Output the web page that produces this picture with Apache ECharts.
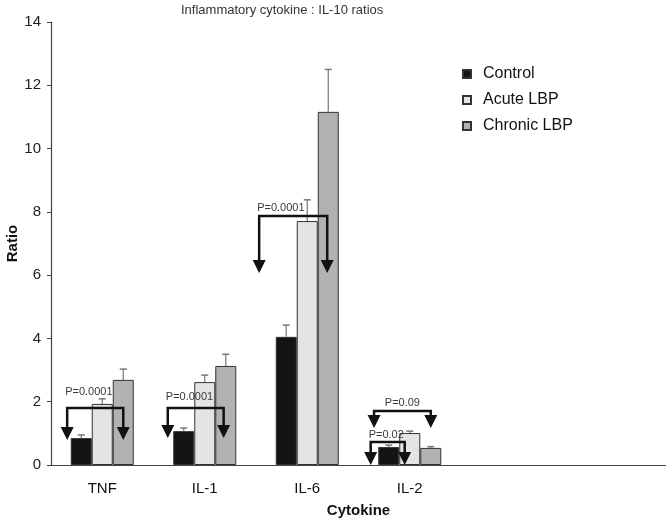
<!DOCTYPE html>
<html><head><meta charset="utf-8">
<script src="https://cdn.jsdelivr.net/npm/echarts@6/dist/echarts.min.js"></script>
<style>html,body{margin:0;padding:0;background:#fff}#c{width:666px;height:521px}</style>
</head><body><div id="c"></div>
<script>
const categories = ['TNF', 'IL-1', 'IL-6', 'IL-2', '', ''];
const seriesNames = ['Control', 'Acute LBP', 'Chronic LBP'];
const control = [0.85, 1.07, 4.05, 0.57];
const acute = [1.93, 2.62, 7.71, 1.01];
const chronic = [2.69, 3.13, 11.16, 0.54];
const controlErr = [0.95, 1.17, 4.42, 0.63];
const acuteErr = [2.09, 2.84, 8.38, 1.07];
const chronicErr = [3.03, 3.50, 12.50, 0.58];
const yTicks = [0, 2, 4, 6, 8, 10, 12, 14];
// significance brackets: category, bracket level, arrow tip, label, label level
const annCat = [0, 1, 2, 3, 3];
const annLevel = [1.80, 1.80, 7.87, 1.71, 0.73];
const annTip = [0.79, 0.85, 6.07, 1.17, 0.0];
const annText = ['P=0.0001', 'P=0.0001', 'P=0.0001', 'P=0.09', 'P=0.02'];
const annTextLevel = [2.31, 2.15, 8.12, 1.96, 0.95];
const annLeft = [-1.67, -1.76, -2.29, -1.70, -1.86];
const annRight = [1.0, 0.9, 0.95, 1.0, -0.24];
const annAlign = ['left', 'left', 'left', 'center', 'left'];

const FONT = '"Liberation Sans", Arial, Helvetica, sans-serif';
const BW = 21;
const colors = ['#141414', '#e4e4e4', '#b2b2b2'];
const vals = [control, acute, chronic];
const errs = [controlErr, acuteErr, chronicErr];

const chart = echarts.init(document.getElementById('c'), null, {renderer: 'canvas'});

const series = [];
seriesNames.forEach((n, i) => {
  series.push({
    name: n, type: 'bar', data: vals[i], barWidth: BW, barGap: '0%',
    itemStyle: {color: colors[i], borderColor: '#333', borderWidth: 1},
    z: 2
  });
});
seriesNames.forEach((n, i) => {
  series.push({
    type: 'custom', name: n + ' err', z: 3,
    data: vals[i].map((v, k) => [k, v, errs[i][k]]),
    renderItem: function (params, api) {
      const c = api.coord([api.value(0), api.value(1)]);
      const e = api.coord([api.value(0), api.value(2)]);
      const x = c[0] + (i - 1) * BW;
      return {type: 'group', children: [
        {type: 'line', shape: {x1: x, y1: c[1], x2: x, y2: e[1]}, style: {stroke: '#777', lineWidth: 1.2}},
        {type: 'line', shape: {x1: x - 3.5, y1: e[1], x2: x + 3.5, y2: e[1]}, style: {stroke: '#777', lineWidth: 1.5}}
      ]};
    }
  });
});
series.push({
  type: 'custom', name: 'ann', z: 5,
  data: annCat.map((c, k) => [c, annLevel[k], annTip[k], annTextLevel[k], k]),
  renderItem: function (params, api) {
    const k = api.value(4);
    const lv = api.coord([api.value(0), api.value(1)]);
    const tp = api.coord([api.value(0), api.value(2)]);
    const tl = api.coord([api.value(0), api.value(3)]);
    const xl = lv[0] + annLeft[k] * BW;
    const xr = lv[0] + annRight[k] * BW;
    const y = lv[1], yt = tp[1];
    const ah = 13, aw = 6.5;
    const st = {stroke: '#111', lineWidth: 2.5, fill: null};
    const tx = annAlign[k] === 'center' ? (xl + xr) / 2 : xl - 2;
    return {type: 'group', children: [
      {type: 'polyline', shape: {points: [[xl, yt - ah + 1], [xl, y], [xr, y], [xr, yt - ah + 1]]}, style: st},
      {type: 'polygon', shape: {points: [[xl - aw, yt - ah], [xl + aw, yt - ah], [xl, yt]]}, style: {fill: '#111'}},
      {type: 'polygon', shape: {points: [[xr - aw, yt - ah], [xr + aw, yt - ah], [xr, yt]]}, style: {fill: '#111'}},
      {type: 'text', x: tx, y: tl[1], style: {text: annText[k], fill: '#3a3a3a', font: '11px ' + FONT, textAlign: annAlign[k], textVerticalAlign: 'middle'}}
    ]};
  }
});

chart.setOption({
  animation: false,
  backgroundColor: '#fff',
  title: {text: 'Inflammatory cytokine : IL-10 ratios', left: 181, top: 4, padding: 0,
    textStyle: {fontFamily: FONT, fontSize: 13, fontWeight: 'normal', color: '#333'}},
  legend: {
    data: seriesNames, orient: 'vertical', left: 462, top: 66, padding: 0,
    icon: 'rect', itemWidth: 8, itemHeight: 8, itemGap: 10,
    textStyle: {fontFamily: FONT, fontSize: 16, color: '#111', lineHeight: 16, padding: [0, 0, 0, 7]}
  },
  grid: {left: 51, right: 0, top: 22, bottom: 56, containLabel: false, outerBoundsMode: 'none'},
  xAxis: {
    type: 'category', data: categories,
    name: 'Cytokine', nameLocation: 'middle', nameGap: 38,
    nameTextStyle: {fontFamily: FONT, fontSize: 15, fontWeight: 'bold', color: '#111'},
    axisLine: {lineStyle: {color: '#444', width: 1.2}},
    axisTick: {show: false},
    axisLabel: {fontFamily: FONT, fontSize: 15, color: '#111', margin: 16}
  },
  yAxis: {
    type: 'value', min: 0, max: 14, interval: 2,
    name: 'Ratio', nameLocation: 'middle', nameGap: 31, nameMoveOverlap: false,
    nameTextStyle: {fontFamily: FONT, fontSize: 15, fontWeight: 'bold', color: '#111'},
    axisLine: {show: true, lineStyle: {color: '#444', width: 1.2}},
    axisTick: {show: true, length: 4, lineStyle: {color: '#444'}},
    splitLine: {show: false},
    axisLabel: {fontFamily: FONT, fontSize: 15, color: '#222', margin: 10,
      formatter: v => yTicks.includes(v) ? String(v) : ''}
  },
  series: series
});
</script></body></html>
